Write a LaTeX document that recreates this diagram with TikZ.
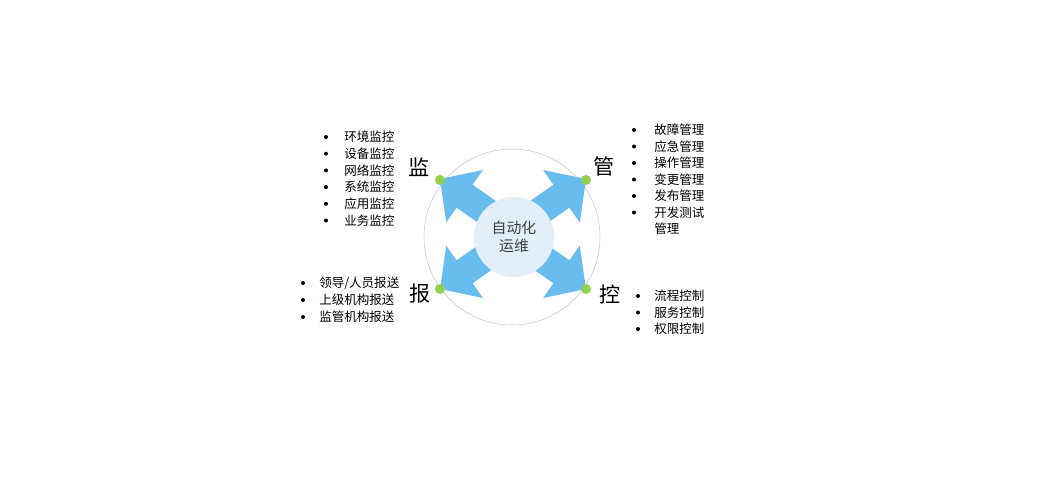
\documentclass[tikz,border=0pt]{standalone}
\usepackage{fontspec}
\setmainfont{Noto Sans CJK SC}
\definecolor{arrowblue}{RGB}{104,188,238}
\definecolor{coreblue}{RGB}{226,239,249}
\definecolor{dotgreen}{RGB}{146,208,80}
\begin{document}
\begin{tikzpicture}[x=0.025cm,y=-0.025cm,
    item/.style={anchor=west,inner sep=0pt,font=\fontsize{8.9}{10}\selectfont},
    big/.style={inner sep=0pt,font=\fontsize{15}{18}\selectfont},
    knob/.style={circle,fill=dotgreen,inner sep=0pt,minimum size=0.25cm}]
    \useasboundingbox (0,0) rectangle (1061,500);
    \draw[black!22] (512,237) circle (88);
    \foreach \x/\y/\a in {440/179/145,586/179/35,440/289/215,586/289/-35}
    {
        \begin{scope}[shift={(\x,\y)},rotate=\a]
            \fill[arrowblue] (0,0) -- (-30,32) -- (-30,14) -- (-66,14) -- (-66,-14) -- (-30,-14) -- (-30,-32) -- cycle;
        \end{scope}
    }
    \node[circle,fill=coreblue,minimum size=2cm,align=center,inner sep=0pt,text=black!75,font=\fontsize{10.6}{13}\selectfont](core)at(514,237){自动化\\运维};
    \node[knob](k1)at(440,180){};
    \node[knob](k2)at(586,180){};
    \node[knob](k3)at(440,289){};
    \node[knob](k4)at(586,289){};
    \node[big](jian)at(419,167){监};
    \node[big](guan)at(604,166){管};
    \node[big](bao)at(420,294){报};
    \node[big](kong)at(610,294){控};
    % monitoring
    \foreach \t [count=\i] in {环境监控,设备监控,网络监控,系统监控,应用监控,业务监控}
    {
        \fill (326,{137+(\i-1)*16.7}) circle (2);
        \node[item](m\i)at(344,{137+(\i-1)*16.7}){\t};
    }
    % management
    \foreach \t [count=\i] in {故障管理,应急管理,操作管理,变更管理,发布管理,开发测试}
    {
        \fill (634,{130+(\i-1)*16.5}) circle (2);
        \node[item](g\i)at(654,{130+(\i-1)*16.5}){\t};
    }
    \node[item](g7)at(654,229){管理};
    % reporting
    \foreach \t [count=\i] in {领导/人员报送,上级机构报送,监管机构报送}
    {
        \fill (303,{283+(\i-1)*17}) circle (2);
        \node[item](b\i)at(319,{283+(\i-1)*17}){\t};
    }
    % control
    \foreach \t [count=\i] in {流程控制,服务控制,权限控制}
    {
        \fill (638,{296+(\i-1)*16.5}) circle (2);
        \node[item](c\i)at(654,{296+(\i-1)*16.5}){\t};
    }
\end{tikzpicture}
\end{document}
